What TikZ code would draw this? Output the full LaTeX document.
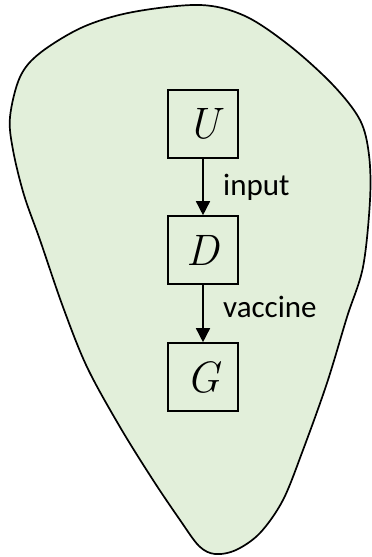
\documentclass[tikz,border=0pt]{standalone}
\usepackage{fontspec}
\newfontfamily\calib{Carlito}
\usetikzlibrary{arrows.meta}
\definecolor{blobgreen}{HTML}{E2EFDA}
\tikzset{
  var/.style={draw=black, line width=1.6pt, minimum width=70pt, minimum height=68pt, inner sep=0pt, font=\fontsize{44}{48}\selectfont\itshape},
  lbl/.style={anchor=base west, inner sep=0pt, font=\calib\fontsize{31}{34}\selectfont},
  conn/.style={line width=1.5pt, -{Triangle[length=14pt,width=14pt]}}
}
\begin{document}
\begin{tikzpicture}[x=1pt,y=-1pt]
\useasboundingbox (0,0) rectangle (372,557);
\draw[line width=1.7pt, fill=blobgreen] plot[smooth cycle, tension=0.55] coordinates {
 (10,117) (20,77) (40,53) (83,27) (133,12) (200,5) (245,16) (290,46) (333,85) (360,120)
 (369,155) (370,200) (363,267) (347,317) (327,383) (303,450) (283,500) (260,533) (236,550)
 (215,554) (199,546) (180,520) (153,480) (120,427) (87,367) (63,307) (40,240) (24,195) (13,150)};
\node[var] (U) at (203,124) {U};
\node[var] (D) at (203,250) {D};
\node[var] (G) at (203,377) {G};
\draw[conn] (U) -- (D);
\draw[conn] (D) -- (G);
\node[lbl] (inp) at (223,195) {input};
\node[lbl] (vac) at (223,317) {vaccine};
\end{tikzpicture}
\end{document}
